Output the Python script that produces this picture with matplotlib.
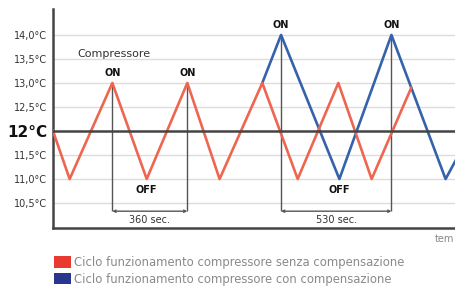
import matplotlib.pyplot as plt
from matplotlib.patches import Patch

# time in seconds, temperature in °C
red_t = [0, 80, 285, 450, 645, 800, 1005, 1175, 1370, 1530, 1720]
red_y = [12.0, 11.0, 13.0, 11.0, 13.0, 11.0, 13.0, 11.0, 13.0, 11.0, 12.9]
blue_t = [1005, 1095, 1375, 1625, 1885, 1935]
blue_y = [13.0, 14.0, 11.0, 14.0, 11.0, 11.4]

ticks = [10.5, 11.0, 11.5, 12.0, 12.5, 13.0, 13.5, 14.0]
tick_labels = ["10,5°C", "11,0°C", "11,5°C", "12°C", "12,5°C", "13,0°C", "13,5°C", "14,0°C"]

red_cycle = [285, 645]
blue_cycle = [1095, 1625]
red_off = 450
blue_off = 1375
legend_labels = ["Ciclo funzionamento compressore senza compensazione",
                 "Ciclo funzionamento compressore con compensazione"]

red = "#ee6650"
blue = "#3563ab"
dark = "#444444"
brk_y = 10.33

fig = plt.figure(figsize=(4.56, 2.86), dpi=100)
ax = fig.add_axes([0.1162, 0.2028, 0.8838, 0.7657])

for y in ticks:
    if y != 12.0:
        ax.axhline(y, color="#dcdcdc", lw=1, zorder=0)

ax.plot(blue_t, blue_y, color=blue, lw=1.9, zorder=2)
ax.plot(red_t, red_y, color=red, lw=1.9, zorder=3)
ax.axhline(12.0, color=dark, lw=1.8, zorder=4)

# cycle brackets
for (t0, t1), ytop, lab in [(red_cycle, 13.0, "360 sec."), (blue_cycle, 14.0, "530 sec.")]:
    ax.vlines([t0, t1], brk_y, ytop, color="#555555", lw=1, zorder=1)
    ax.annotate("", xy=(t0, brk_y), xytext=(t1, brk_y),
                arrowprops=dict(arrowstyle="<->", color="#555555", lw=1,
                                mutation_scale=4, shrinkA=0, shrinkB=0))
    ax.text((t0 + t1) / 2, 10.15, lab, ha="center", va="center", fontsize=7, color="#333333")
    for t in (t0, t1):
        ax.text(t, ytop + 0.21, "ON", ha="center", va="center", fontsize=7,
                fontweight="bold", color="#111111")

ax.text(red_off, 10.77, "OFF", ha="center", va="center", fontsize=7, fontweight="bold", color="#111111")
ax.text(blue_off, 10.77, "OFF", ha="center", va="center", fontsize=7, fontweight="bold", color="#111111")
ax.text(115, 13.6, "Compressore", ha="left", va="center", fontsize=8, color="#333333")

ax.set_xlim(0, 1935)
ax.set_ylim(9.98, 14.54)
ax.set_xticks([])
ax.set_yticks(ticks)
ax.set_yticklabels(tick_labels, fontsize=7, color="#333333")
for lab in ax.get_yticklabels():
    if lab.get_text() == "12°C":
        lab.set_fontsize(11)
        lab.set_fontweight("bold")
        lab.set_color("#111111")
ax.tick_params(axis="y", length=0, pad=4)
for s in ["top", "right"]:
    ax.spines[s].set_visible(False)
for s in ["left", "bottom"]:
    ax.spines[s].set_color(dark)
    ax.spines[s].set_linewidth(1.8)

fig.text(454 / 456, 1 - 239 / 286, "tem", fontsize=7, color="#888888", va="center", ha="right")

handles = [Patch(facecolor="#e83a30"), Patch(facecolor="#2a3590")]
fig.legend(handles, legend_labels, loc="upper left", bbox_to_anchor=(0.105, 0.125),
           frameon=False, fontsize=8.4, labelcolor="#8a8a8a", handlelength=1.45,
           handleheight=1.15, handletextpad=0.3, labelspacing=0.3, borderpad=0)

fig.savefig("out.png", dpi=100)
